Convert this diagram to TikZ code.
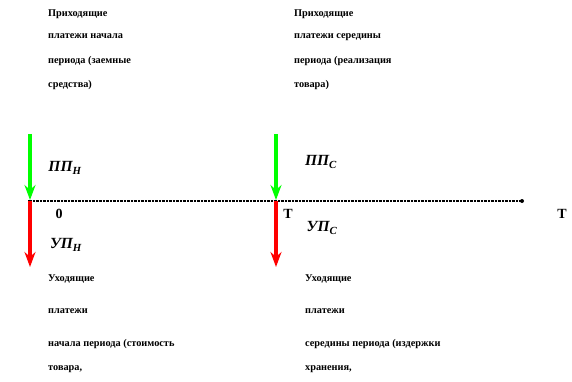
\documentclass[tikz,border=0pt]{standalone}
\usepackage{fontspec}
\setmainfont{Liberation Serif}
\usetikzlibrary{arrows.meta}
\definecolor{gr}{RGB}{0,255,0}
\definecolor{rd}{RGB}{255,0,0}
\begin{document}
\begin{tikzpicture}[x=1pt,y=-1pt,
  txt/.style={anchor=base west,inner sep=0pt,font=\fontsize{10.3}{10.3}\selectfont\bfseries},
  lab/.style={anchor=center,inner sep=0pt,font=\fontsize{15.5}{15.5}\selectfont\bfseries\itshape},
  num/.style={anchor=center,inner sep=0pt,font=\fontsize{14}{14}\selectfont\bfseries},
  inarrow/.style={draw=gr,line width=3.5pt,-{Stealth[length=15pt,width=11pt,inset=5pt]}},
  outarrow/.style={draw=rd,line width=3.5pt,-{Stealth[length=15pt,width=11pt,inset=5pt]}},
  axis/.style={draw=black,line width=1.3pt,dash pattern=on 1pt off 0.4pt}]
\useasboundingbox (0,0) rectangle (572,382);
% axis
\coordinate (A0) at (30,201);
\coordinate (AT) at (276,201);
\coordinate (AE) at (522,201);
\draw[axis] (A0) -- (AE);
\fill[black] (A0) ++(-2,-1.5) rectangle ++(4,3);
\fill[black] (AE) circle (2pt);
% arrows
\coordinate (G1) at (30,134);
\coordinate (G1e) at (30,200);
\coordinate (R1e) at (30,267);
\coordinate (G2) at (276,134);
\coordinate (G2e) at (276,200);
\coordinate (R2e) at (276,267);
\draw[inarrow] (G1) -- (G1e);
\draw[outarrow] (A0) -- (R1e);
\draw[inarrow] (G2) -- (G2e);
\draw[outarrow] (AT) -- (R2e);
% labels
\node[lab] (ppn) at (65,168) {ПП\textsubscript{Н}};
\node[lab] (upn) at (66,245) {УП\textsubscript{Н}};
\node[lab] (pps) at (321,162) {ПП\textsubscript{С}};
\node[lab] (ups) at (322,228) {УП\textsubscript{С}};
\node[num] (zero) at (59,214) {0};
\node[num] (t1) at (288,214) {Т};
\node[num] (t2) at (562,214) {Т};
% top texts
\node[txt] (tl1) at (48,17) {Приходящие};
\node[txt] (tl2) at (48,39) {платежи начала};
\node[txt] (tl3) at (48,64) {периода (заемные};
\node[txt] (tl4) at (48,88) {средства)};
\node[txt] (tr1) at (294,17) {Приходящие};
\node[txt] (tr2) at (294,39) {платежи середины};
\node[txt] (tr3) at (294,64) {периода (реализация};
\node[txt] (tr4) at (294,88) {товара)};
% bottom texts
\node[txt] (bl1) at (48,281) {Уходящие};
\node[txt] (bl2) at (48,313) {платежи};
\node[txt] (bl3) at (48,346) {начала периода (стоимость};
\node[txt] (bl4) at (48,370) {товара,};
\node[txt] (br1) at (305,281) {Уходящие};
\node[txt] (br2) at (305,313) {платежи};
\node[txt] (br3) at (305,346) {середины периода (издержки};
\node[txt] (br4) at (305,370) {хранения,};
\end{tikzpicture}
\end{document}
